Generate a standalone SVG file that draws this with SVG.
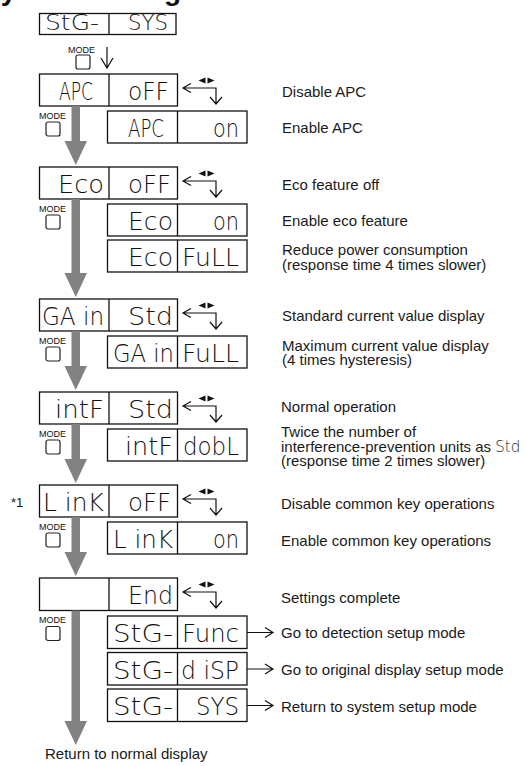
<svg xmlns="http://www.w3.org/2000/svg" xmlns:xlink="http://www.w3.org/1999/xlink" width="526" height="766" viewBox="0 0 526 766">
<style>
.box rect{fill:#fff;stroke:#111;stroke-width:1.3}
.box line{stroke:#111;stroke-width:1.3}
.seg{font-family:"DejaVu Sans","Liberation Sans",sans-serif;font-weight:200;font-size:24.5px;fill:#111}
.seg.s{font-size:20.5px}
.lbl{font-family:"Liberation Sans",Arial,sans-serif;font-size:15px;fill:#1a1a1a}
.title{font-family:"Liberation Sans",Arial,sans-serif;font-weight:bold;font-size:28px;fill:#111}
.mode{font-family:"Liberation Sans",Arial,sans-serif;font-size:9px;fill:#111;text-anchor:middle}
.btn{fill:#fff;stroke:#222;stroke-width:1.2}
.gray{fill:#828282}
.thin{fill:none;stroke:#111;stroke-width:1.2}
.tri{fill:#111}
.inl{font-family:"DejaVu Sans",sans-serif;font-weight:200;font-size:15px}
</style>
<defs>
<g id="tog">
<path class="thin" d="M8,-4.5 L0,0 L8,4.5 M0,0 H33 V16 M27,9 L33,16 L39,9"/>
<path class="tri" d="M15.5,-7.5 L22.5,-10.5 V-4.5 Z M31.5,-7.5 L24.5,-10.5 V-4.5 Z"/>
</g>
<path id="ra" class="thin" d="M0,0 H26 M18,-5 L26,0 L18,5"/>
<g id="btnmode">
<text class="mode" x="6.5" y="-3.5">MODE</text>
<rect class="btn" x="0" y="0" width="14" height="14" rx="2"/>
</g>
</defs>

<text class="title" x="-18" y="0">System settings</text>

<g id="n-stg-sys-top" class="box">
<rect x="39.5" y="13.5" width="136.5" height="21"/>
<line x1="109" y1="13.5" x2="109" y2="34.5"/>
<text class="seg s" x="45" y="30" textLength="54" lengthAdjust="spacingAndGlyphs">StG-</text>
<text class="seg s" x="128" y="30" textLength="40" lengthAdjust="spacingAndGlyphs">SYS</text>
</g>

<g id="n-apc-off" class="box">
<rect x="39.5" y="74" width="138" height="32"/>
<line x1="109" y1="74" x2="109" y2="106"/>
<text class="seg" x="59" y="100" textLength="34" lengthAdjust="spacingAndGlyphs">APC</text>
<text class="seg" x="128" y="100" textLength="41" lengthAdjust="spacingAndGlyphs">oFF</text>
</g>
<g id="n-apc-on" class="box">
<rect x="107.5" y="111" width="139.5" height="32"/>
<line x1="177.5" y1="111" x2="177.5" y2="143"/>
<text class="seg" x="128" y="137" textLength="36" lengthAdjust="spacingAndGlyphs">APC</text>
<text class="seg" x="213" y="137" textLength="26" lengthAdjust="spacingAndGlyphs">on</text>
</g>

<g id="n-eco-off" class="box">
<rect x="39.5" y="167" width="138" height="32"/>
<line x1="109" y1="167" x2="109" y2="199"/>
<text class="seg" x="58" y="193" textLength="46" lengthAdjust="spacingAndGlyphs">Eco</text>
<text class="seg" x="128" y="193" textLength="43" lengthAdjust="spacingAndGlyphs">oFF</text>
</g>
<g id="n-eco-on" class="box">
<rect x="107.5" y="204" width="139.5" height="32"/>
<line x1="177.5" y1="204" x2="177.5" y2="236"/>
<text class="seg" x="128" y="230" textLength="45" lengthAdjust="spacingAndGlyphs">Eco</text>
<text class="seg" x="213" y="230" textLength="26" lengthAdjust="spacingAndGlyphs">on</text>
</g>
<g id="n-eco-full" class="box">
<rect x="107.5" y="240" width="139.5" height="32"/>
<line x1="177.5" y1="240" x2="177.5" y2="272"/>
<text class="seg" x="128" y="266" textLength="45" lengthAdjust="spacingAndGlyphs">Eco</text>
<text class="seg" x="182" y="266" textLength="57" lengthAdjust="spacingAndGlyphs">FuLL</text>
</g>

<g id="n-gain-std" class="box">
<rect x="39.5" y="299" width="138" height="32"/>
<line x1="109" y1="299" x2="109" y2="331"/>
<text class="seg" x="42" y="325" textLength="62" lengthAdjust="spacingAndGlyphs">GA in</text>
<text class="seg" x="128" y="325" textLength="45" lengthAdjust="spacingAndGlyphs">Std</text>
</g>
<g id="n-gain-full" class="box">
<rect x="107.5" y="336" width="139.5" height="32"/>
<line x1="177.5" y1="336" x2="177.5" y2="368"/>
<text class="seg" x="113" y="362" textLength="61" lengthAdjust="spacingAndGlyphs">GA in</text>
<text class="seg" x="182" y="362" textLength="57" lengthAdjust="spacingAndGlyphs">FuLL</text>
</g>

<g id="n-intf-std" class="box">
<rect x="39.5" y="392" width="138" height="32"/>
<line x1="109" y1="392" x2="109" y2="424"/>
<text class="seg" x="55" y="418" textLength="49" lengthAdjust="spacingAndGlyphs">intF</text>
<text class="seg" x="128" y="418" textLength="45" lengthAdjust="spacingAndGlyphs">Std</text>
</g>
<g id="n-intf-dobl" class="box">
<rect x="107.5" y="429" width="139.5" height="32"/>
<line x1="177.5" y1="429" x2="177.5" y2="461"/>
<text class="seg" x="125" y="455" textLength="48" lengthAdjust="spacingAndGlyphs">intF</text>
<text class="seg" x="183" y="455" textLength="56" lengthAdjust="spacingAndGlyphs">dobL</text>
</g>

<g id="n-link-off" class="box">
<rect x="39.5" y="485" width="138" height="32"/>
<line x1="109" y1="485" x2="109" y2="517"/>
<text class="seg" x="43" y="511" textLength="61" lengthAdjust="spacingAndGlyphs">L inK</text>
<text class="seg" x="128" y="511" textLength="43" lengthAdjust="spacingAndGlyphs">oFF</text>
</g>
<g id="n-link-on" class="box">
<rect x="107.5" y="522" width="139.5" height="32"/>
<line x1="177.5" y1="522" x2="177.5" y2="554"/>
<text class="seg" x="113" y="548" textLength="60" lengthAdjust="spacingAndGlyphs">L inK</text>
<text class="seg" x="213" y="548" textLength="26" lengthAdjust="spacingAndGlyphs">on</text>
</g>

<g id="n-end" class="box">
<rect x="39.5" y="578" width="138" height="32.5"/>
<line x1="109" y1="578" x2="109" y2="610.5"/>
<text class="seg" x="128" y="604" textLength="45" lengthAdjust="spacingAndGlyphs">End</text>
</g>
<g id="n-stg-func" class="box">
<rect x="107.5" y="616" width="139.5" height="32.5"/>
<line x1="177.5" y1="616" x2="177.5" y2="648.5"/>
<text class="seg" x="113" y="642" textLength="60" lengthAdjust="spacingAndGlyphs">StG-</text>
<text class="seg" x="182" y="642" textLength="57" lengthAdjust="spacingAndGlyphs">Func</text>
</g>
<g id="n-stg-disp" class="box">
<rect x="107.5" y="652.5" width="139.5" height="32.5"/>
<line x1="177.5" y1="652.5" x2="177.5" y2="685"/>
<text class="seg" x="113" y="678.5" textLength="60" lengthAdjust="spacingAndGlyphs">StG-</text>
<text class="seg" x="181" y="678.5" textLength="58" lengthAdjust="spacingAndGlyphs">d iSP</text>
</g>
<g id="n-stg-sys" class="box">
<rect x="107.5" y="689" width="139.5" height="32.5"/>
<line x1="177.5" y1="689" x2="177.5" y2="721.5"/>
<text class="seg" x="113" y="715" textLength="60" lengthAdjust="spacingAndGlyphs">StG-</text>
<text class="seg" x="196" y="715" textLength="43" lengthAdjust="spacingAndGlyphs">SYS</text>
</g>

<g id="connectors">
<path class="thin" d="M107,47 V68 M101,58 L107,68 L113,58"/>
<path class="gray" d="M71.5,106 H80 V141 H87 L75.75,165 L64.5,141 H71.5 Z"/>
<path class="gray" d="M71.5,199 H80 V273 H87 L75.75,297 L64.5,273 H71.5 Z"/>
<path class="gray" d="M71.5,331 H80 V366 H87 L75.75,390 L64.5,366 H71.5 Z"/>
<path class="gray" d="M71.5,424 H80 V459 H87 L75.75,483 L64.5,459 H71.5 Z"/>
<path class="gray" d="M71.5,517 H80 V552 H87 L75.75,576 L64.5,552 H71.5 Z"/>
<path class="gray" d="M71.5,610.5 H80 V721 H87 L75.75,745 L64.5,721 H71.5 Z"/>
<use xlink:href="#tog" x="183" y="88"/>
<use xlink:href="#tog" x="183" y="181"/>
<use xlink:href="#tog" x="183" y="313"/>
<use xlink:href="#tog" x="183" y="406"/>
<use xlink:href="#tog" x="183" y="499"/>
<use xlink:href="#tog" x="183" y="592"/>
<use xlink:href="#ra" x="247" y="632.5"/>
<use xlink:href="#ra" x="247" y="669"/>
<use xlink:href="#ra" x="247" y="705.5"/>
</g>

<g id="mode-buttons">
<text class="mode" x="81.5" y="52.5">MODE</text>
<rect class="btn" x="76" y="55" width="14" height="14" rx="2"/>
<use xlink:href="#btnmode" x="46" y="122"/>
<use xlink:href="#btnmode" x="46" y="215"/>
<use xlink:href="#btnmode" x="46" y="347"/>
<use xlink:href="#btnmode" x="46" y="440"/>
<use xlink:href="#btnmode" x="46" y="533"/>
<use xlink:href="#btnmode" x="46" y="626.5"/>
</g>

<g id="labels">
<text class="lbl" x="11" y="507" style="font-size:13px">*1</text>
<text class="lbl" x="282" y="97">Disable APC</text>
<text class="lbl" x="282" y="133">Enable APC</text>
<text class="lbl" x="282" y="190">Eco feature off</text>
<text class="lbl" x="282" y="226">Enable eco feature</text>
<text class="lbl" x="282" y="255">Reduce power consumption<tspan x="282" dy="14.5">(response time 4 times slower)</tspan></text>
<text class="lbl" x="282" y="321">Standard current value display</text>
<text class="lbl" x="282" y="350.5">Maximum current value display<tspan x="282" dy="14.5">(4 times hysteresis)</tspan></text>
<text class="lbl" x="281" y="412">Normal operation</text>
<text class="lbl" x="281" y="437">Twice the number of<tspan x="281" dy="14.5">interference-prevention units as </tspan><tspan class="inl">Std</tspan><tspan x="281" dy="14.5">(response time 2 times slower)</tspan></text>
<text class="lbl" x="281" y="509">Disable common key operations</text>
<text class="lbl" x="281" y="546">Enable common key operations</text>
<text class="lbl" x="281" y="603">Settings complete</text>
<text class="lbl" x="281" y="638">Go to detection setup mode</text>
<text class="lbl" x="281" y="675">Go to original display setup mode</text>
<text class="lbl" x="281" y="712">Return to system setup mode</text>
<text class="lbl" x="45" y="759">Return to normal display</text>
</g>
</svg>
